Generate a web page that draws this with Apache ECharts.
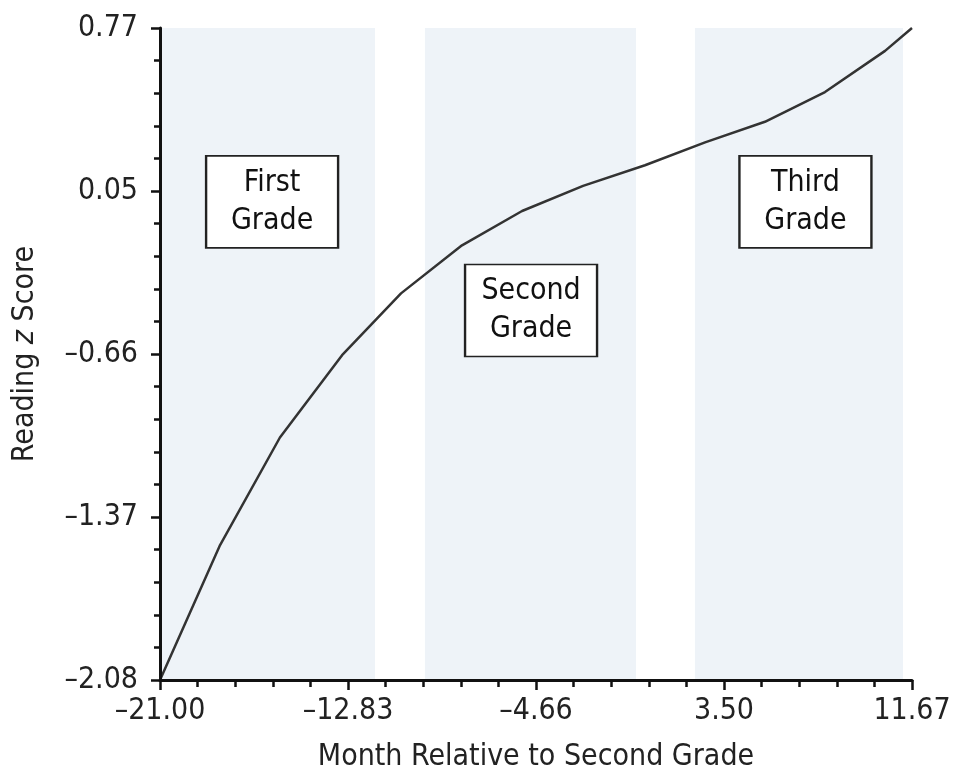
<!DOCTYPE html>
<html>
<head>
<meta charset="utf-8">
<script src="https://cdn.jsdelivr.net/npm/echarts@6/dist/echarts.min.js"></script>
<style>html,body{margin:0;padding:0;background:#fff}#c{width:956px;height:783px}</style>
</head>
<body>
<div id="c"></div>
<script>
// ---- data ----
var months = [-21.00, -18.39, -15.79, -13.09, -10.53, -7.88, -5.27, -2.62, 0.07, 2.68, 5.28, 7.89, 10.50, 11.67];
var zScores = [-2.08, -1.49, -1.02, -0.66, -0.39, -0.18, -0.03, 0.08, 0.17, 0.27, 0.36, 0.49, 0.67, 0.77];
var xTicks = [-21.00, -12.83, -4.66, 3.50, 11.67];
var yTicks = [-2.08, -1.37, -0.66, 0.05, 0.77];
var gradeNames = ['First\nGrade', 'Second\nGrade', 'Third\nGrade'];
var gradeStart = [-20.91, -9.49, 2.24];
var gradeEnd = [-11.66, -0.32, 11.28];
var gradeLabelX = [-16.13, -4.88, 7.04];
var gradeLabelY = [0.01, -0.465, 0.01];

// axes are measured from their first tick so that intervals line up with min
var x0 = xTicks[0], y0 = yTicks[0];
var xSpan = xTicks[xTicks.length - 1] - x0, ySpan = yTicks[yTicks.length - 1] - y0;
function fmt(v) { var s = Math.abs(v).toFixed(2); return v < 0 ? '\u2013' + s : s; }
function nearest(arr, v) { var b = arr[0]; arr.forEach(function (t) { if (Math.abs(t - v) < Math.abs(b - v)) b = t; }); return b; }

var FONT = '"Liberation Sans Narrow", "DejaVu Sans Condensed", "Roboto", sans-serif';
var lineData = months.map(function (m, i) { return [m - x0, zScores[i] - y0]; });

var chart = echarts.init(document.getElementById('c'));
chart.setOption({
  backgroundColor: '#fff',
  animation: false,
  grid: { left: 160, right: 44, top: 28, bottom: 103 },
  xAxis: {
    type: 'value', min: 0, max: xSpan, interval: xSpan / 4, z: 10,
    name: 'Month Relative to Second Grade', nameLocation: 'middle', nameGap: 62,
    nameTextStyle: { fontFamily: FONT, fontSize: 30, color: '#222' },
    axisLine: { show: true, lineStyle: { color: '#111', width: 3 } },
    axisTick: { show: true, length: 10, lineStyle: { color: '#111', width: 2.5 } },
    minorTick: { show: true, splitNumber: 5, length: 7, lineStyle: { color: '#111', width: 2.5 } },
    splitLine: { show: false },
    axisLabel: { fontFamily: FONT, fontSize: 30, color: '#222', margin: 16,
      formatter: function (v) { return fmt(nearest(xTicks, v + x0)); } }
  },
  yAxis: {
    type: 'value', min: 0, max: ySpan, interval: ySpan / 4, z: 10,
    name: '{a|Reading }{i|z}{a| Score}', nameLocation: 'middle', nameGap: 120, nameRotate: 90,
    nameTextStyle: { fontFamily: FONT, fontSize: 30, color: '#222',
      rich: { a: { fontFamily: FONT, fontSize: 30, color: '#222' }, i: { fontFamily: FONT, fontSize: 30, color: '#222', fontStyle: 'italic' } } },
    axisLine: { show: true, lineStyle: { color: '#111', width: 3 } },
    axisTick: { show: true, length: 9, lineStyle: { color: '#111', width: 2.5 } },
    minorTick: { show: true, splitNumber: 5, length: 6, lineStyle: { color: '#111', width: 2.5 } },
    splitLine: { show: false },
    axisLabel: { fontFamily: FONT, fontSize: 30, color: '#222', margin: 22,
      formatter: function (v) { return fmt(nearest(yTicks, v + y0)); } }
  },
  series: [{
    type: 'line', data: lineData, showSymbol: false, smooth: false, z: 5,
    lineStyle: { color: '#333', width: 2.5 },
    markArea: {
      silent: true,
      itemStyle: { color: '#eef3f8' },
      data: gradeStart.map(function (s, i) { return [{ xAxis: s - x0 }, { xAxis: gradeEnd[i] - x0 }]; })
    },
    markPoint: {
      silent: true,
      symbol: 'rect', symbolSize: [132, 92],
      itemStyle: { color: '#fff', borderColor: '#222', borderWidth: 2 },
      label: { show: true, position: 'inside', fontFamily: FONT, fontSize: 30, lineHeight: 38, color: '#111' },
      data: gradeNames.map(function (n, i) {
        return { coord: [gradeLabelX[i] - x0, gradeLabelY[i] - y0], label: { formatter: n } };
      })
    }
  }]
});
</script>
</body>
</html>
